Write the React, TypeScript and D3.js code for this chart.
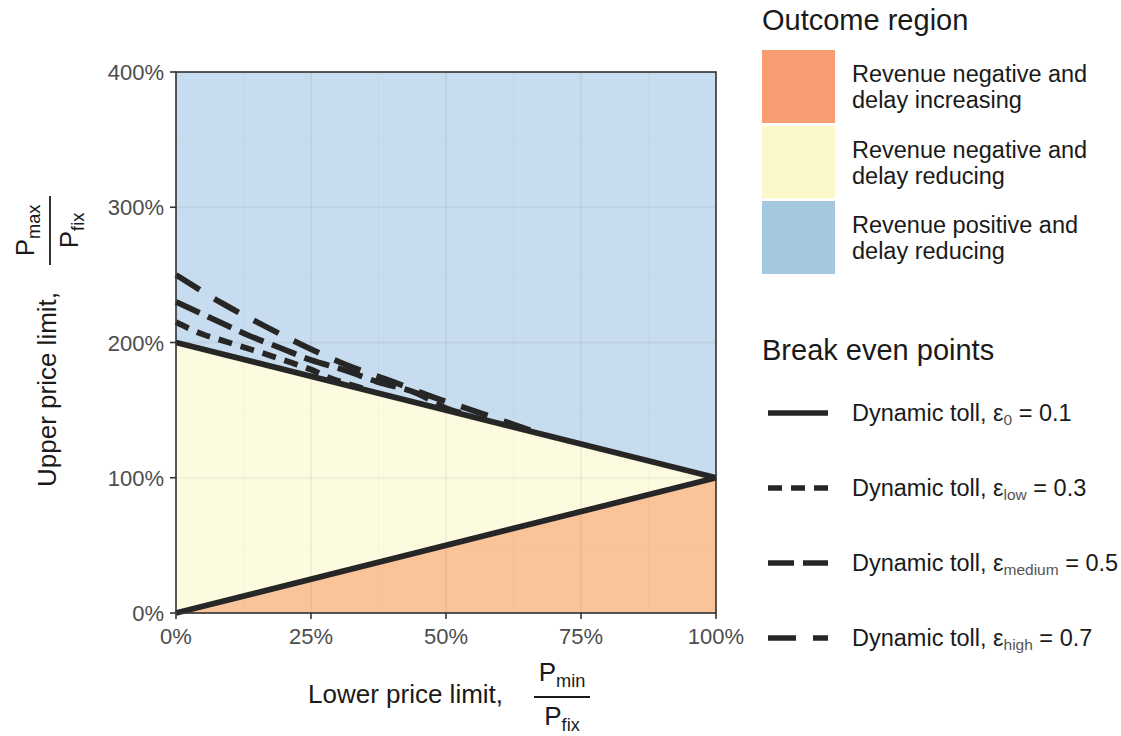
import React from "react";
import * as d3 from "d3";

// Axis ticks (percent of the fixed toll)
const xTicks = [0, 25, 50, 75, 100];
const yTicks = [0, 100, 200, 300, 400];
const xMinor = [12.5, 37.5, 62.5, 87.5];
const yMinor = [50, 150, 250, 350];

// Break-even boundaries for the base elasticity (eps0 = 0.1)
const boundaryPmin = [0, 100];
const revenueBreakEven = [200, 100];
const delayBreakEven = [0, 100];

// Break-even curves for higher elasticities: lower limit (%) and upper limit (%)
const lowPmin = [0, 5, 9, 13, 17, 21, 25, 28, 33, 36];
const lowPmax = [215, 206, 201, 196, 191, 185.5, 180, 174.5, 168, 164.5];
const mediumPmin = [0, 7.6, 13.3, 19.3, 25, 31.3, 37.2, 44.6, 50, 54];
const mediumPmax = [230, 216, 205.5, 196, 187, 179.5, 171, 162.5, 151.5, 146.5];
const highPmin = [0, 9, 16.5, 24, 31.8, 39.8, 47.7, 55.5, 61.3, 66];
const highPmax = [250, 228, 212, 197, 183, 171.5, 159.5, 149, 141, 134.5];

// Legend entries
const regionLabels = [
  ["Revenue negative and", "delay increasing"],
  ["Revenue negative and", "delay reducing"],
  ["Revenue positive and", "delay reducing"],
];
const regionColors = ["#F89C71", "#FBF8CC", "#A4C7E0"];
const regionFills = ["#FAC49A", "#FCFBE0", "#C7DCEE"];

const tollSubs = ["0", "low", "medium", "high"];
const tollValues = ["0.1", "0.3", "0.5", "0.7"];
const tollDash = [null, "14 9", "26 9", "28 17"];

const FONT = "'Liberation Sans', Arial, sans-serif";
const INK = "#1A1A1A";
const LINE = "#262626";
const TICK_FS = 22;
const TITLE_FS = 26;
const LEGEND_TITLE_FS = 29;
const LEGEND_FS = 23.5;

const x = d3.scaleLinear().domain([0, 100]).range([176, 716]);
const y = d3.scaleLinear().domain([0, 400]).range([613, 72]);

function Fraction({ cx, barY, num, numSub, den, denSub, fs, halfW }: any) {
  const sub = fs * 0.7;
  return (
    <g>
      <line x1={cx - halfW} x2={cx + halfW} y1={barY} y2={barY} stroke={INK} strokeWidth={1.8} />
      <text x={cx} y={barY - 16} textAnchor="middle" fontSize={fs} fill={INK}>
        {num}
        <tspan fontSize={sub} dy={6}>{numSub}</tspan>
      </text>
      <text x={cx} y={barY + 28} textAnchor="middle" fontSize={fs} fill={INK}>
        {den}
        <tspan fontSize={sub} dy={6}>{denSub}</tspan>
      </text>
    </g>
  );
}

export default function App() {
  const blue = d3
    .area<number>()
    .x((_, i) => x(boundaryPmin[i]))
    .y0((_, i) => y(revenueBreakEven[i]))
    .y1(() => y(400))(boundaryPmin) as string;
  const yellow = d3
    .area<number>()
    .x((_, i) => x(boundaryPmin[i]))
    .y0((_, i) => y(delayBreakEven[i]))
    .y1((_, i) => y(revenueBreakEven[i]))(boundaryPmin) as string;
  const orange = d3
    .area<number>()
    .x((_, i) => x(boundaryPmin[i]))
    .y0(() => y(0))
    .y1((_, i) => y(delayBreakEven[i]))(boundaryPmin) as string;

  const line = (xs: number[], ys: number[]) =>
    d3
      .line<number>()
      .x((_, i) => x(xs[i]))
      .y((_, i) => y(ys[i]))
      .curve(d3.curveMonotoneX)(xs) as string;

  const dashedSeries = [
    { xs: highPmin, ys: highPmax, dash: tollDash[3] },
    { xs: mediumPmin, ys: mediumPmax, dash: tollDash[2] },
    { xs: lowPmin, ys: lowPmax, dash: tollDash[1] },
  ];

  const pct = d3.format(".0%");

  return (
    <svg width={1121} height={736} style={{ display: "block", position: "absolute", left: 0, top: 0 }} fontFamily={FONT}>
      <rect width={1121} height={736} fill="#fff" />

      {/* outcome regions */}
      <path d={blue} fill={regionFills[2]} />
      <path d={yellow} fill={regionFills[1]} />
      <path d={orange} fill={regionFills[0]} />

      {/* grid */}
      {xMinor.map((v) => (
        <line key={"xm" + v} x1={x(v)} x2={x(v)} y1={y(0)} y2={y(400)} stroke="#000" strokeOpacity={0.025} strokeWidth={1} />
      ))}
      {yMinor.map((v) => (
        <line key={"ym" + v} x1={x(0)} x2={x(100)} y1={y(v)} y2={y(v)} stroke="#000" strokeOpacity={0.025} strokeWidth={1} />
      ))}
      {xTicks.map((v) => (
        <line key={"xg" + v} x1={x(v)} x2={x(v)} y1={y(0)} y2={y(400)} stroke="#000" strokeOpacity={0.045} strokeWidth={2} />
      ))}
      {yTicks.map((v) => (
        <line key={"yg" + v} x1={x(0)} x2={x(100)} y1={y(v)} y2={y(v)} stroke="#000" strokeOpacity={0.045} strokeWidth={2} />
      ))}

      {/* break-even curves */}
      {dashedSeries.map((s, i) => (
        <path key={i} d={line(s.xs, s.ys)} fill="none" stroke={LINE} strokeWidth={5.8} strokeDasharray={s.dash as string} />
      ))}
      <path d={line(boundaryPmin, revenueBreakEven)} fill="none" stroke={LINE} strokeWidth={5.8} />
      <path d={line(boundaryPmin, delayBreakEven)} fill="none" stroke={LINE} strokeWidth={5.8} />

      {/* panel border */}
      <rect x={x(0)} y={y(400)} width={x(100) - x(0)} height={y(0) - y(400)} fill="none" stroke="#333" strokeWidth={1.6} />

      {/* axes */}
      {xTicks.map((v) => (
        <g key={"xt" + v}>
          <line x1={x(v)} x2={x(v)} y1={y(0)} y2={y(0) + 6} stroke="#333" strokeWidth={1.6} />
          <text x={x(v)} y={y(0) + 31} textAnchor="middle" fontSize={TICK_FS} fill="#4D4D4D">
            {pct(v / 100)}
          </text>
        </g>
      ))}
      {yTicks.map((v) => (
        <g key={"yt" + v}>
          <line x1={x(0) - 6} x2={x(0)} y1={y(v)} y2={y(v)} stroke="#333" strokeWidth={1.6} />
          <text x={x(0) - 12} y={y(v) + 8} textAnchor="end" fontSize={TICK_FS} fill="#4D4D4D">
            {pct(v / 100)}
          </text>
        </g>
      ))}

      {/* x title */}
      <text x={308} y={703} fontSize={TITLE_FS} fill={INK}>Lower price limit,</text>
      <Fraction cx={562} barY={697} num="P" numSub="min" den="P" denSub="fix" fs={TITLE_FS} halfW={28} />

      {/* y title */}
      <g transform="rotate(-90)">
        <text x={-487} y={56} fontSize={TITLE_FS} fill={INK}>Upper price limit,</text>
        <Fraction cx={-230.5} barY={50} num="P" numSub="max" den="P" denSub="fix" fs={TITLE_FS} halfW={34.5} />
      </g>

      {/* legend: outcome region */}
      <text x={762} y={30} fontSize={LEGEND_TITLE_FS} fill={INK}>Outcome region</text>
      {regionLabels.map((lab, i) => (
        <g key={"rl" + i}>
          <rect x={762} y={50 + i * 75.5} width={73} height={73} fill={regionColors[i]} />
          <text x={852} y={82 + i * 75.5} fontSize={LEGEND_FS} fill={INK}>{lab[0]}</text>
          <text x={852} y={108 + i * 75.5} fontSize={LEGEND_FS} fill={INK}>{lab[1]}</text>
        </g>
      ))}

      {/* legend: break even points */}
      <text x={762} y={360} fontSize={LEGEND_TITLE_FS} fill={INK}>Break even points</text>
      {tollSubs.map((s, i) => {
        const cy = 413 + i * 75;
        return (
          <g key={"tl" + i}>
            <line x1={768} x2={828} y1={cy} y2={cy} stroke={LINE} strokeWidth={5.5} strokeDasharray={tollDash[i] ?? undefined} />
            <text x={852} y={cy + 8} fontSize={LEGEND_FS} fill={INK}>
              Dynamic toll, ε
              <tspan fontSize={15.5} dy={4} fill="#555">{s}</tspan>
              <tspan dy={-4}> = {tollValues[i]}</tspan>
            </text>
          </g>
        );
      })}
    </svg>
  );
}
